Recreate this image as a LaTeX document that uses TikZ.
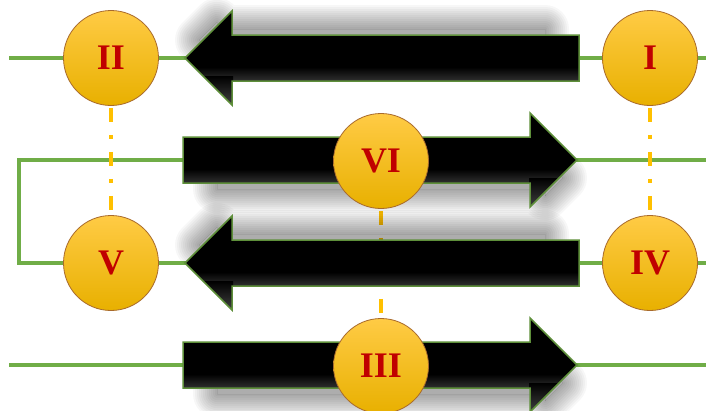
\documentclass[tikz,border=0pt]{standalone}
\usepackage{fontspec}
\setmainfont{Liberation Serif}

\definecolor{linegreen}{HTML}{70AD47}
\definecolor{edgegreen}{HTML}{5E8F3A}
\definecolor{dashorange}{HTML}{FFC000}
\definecolor{discrim}{HTML}{A86A2C}
\definecolor{disctop}{HTML}{FFCB45}
\definecolor{discmid}{HTML}{FFC000}
\definecolor{discbot}{HTML}{E8B000}
\definecolor{numred}{HTML}{C00000}

\pgfdeclarelayer{tracks}
\pgfdeclarelayer{shades}
\pgfdeclarelayer{arrows}
\pgfsetlayers{tracks,shades,arrows,main}

\tikzset{
  greenline/.style={linegreen, line width=4pt, line join=miter},
  dashdotline/.style={dashorange, line width=3.5pt,
    dash pattern=on 14pt off 13pt on 4pt off 13pt, dash phase=42pt},
  disc/.style={circle, minimum size=95pt, inner sep=0pt, draw=discrim,
    line width=0.8pt, top color=disctop, middle color=discmid,
    bottom color=discbot, text=numred,
    font=\bfseries\fontsize{36}{36}\selectfont},
  arrowedge/.style={draw=edgegreen, line width=1.5pt, line join=miter},
  shadowcore/.style={black, opacity=0.32},
  shadowring/.style={black, opacity=0.0316, line join=round}
}

% block arrow outline: tip at (#1,#2), #3 = 1 points right / -1 left,
% #4 = head length (= half head width), #5 = half shaft width,
% #6 = distance from tip to tail
\newcommand\arrowpath[6]{%
  (#1,#2) -- ++({-#4*#3},-#4) -- ++(0,{#4-#5}) -- ++({-(#6-#4)*#3},0)
  -- ++(0,{2*#5}) -- ++({(#6-#4)*#3},0) -- ++(0,{#4-#5}) -- cycle}

% soft shadow of an arrow whose tip would be at (#1,#2), direction #3,
% length #4: an inset core with fading rings round it
\newcommand\softshadow[4]{%
  \fill[shadowcore] \arrowpath{#1-17*#3}{#2}{#3}{18}{11}{#4-29};
  \begin{scope}[even odd rule]
    \clip (-50,-50) rectangle (760,460)
      \arrowpath{#1-17*#3}{#2}{#3}{18}{11}{#4-29};
    \foreach \w in {4,8,...,48} {
      \draw[shadowring, line width=\w pt]
        \arrowpath{#1-17*#3}{#2}{#3}{18}{11}{#4-29};
    }
  \end{scope}}

\begin{document}
\begin{tikzpicture}[x=1pt, y=-1pt]
  % canvas
  \begin{pgfonlayer}{tracks}
    \fill[white] (0,0) rectangle (706,410);
  \end{pgfonlayer}
  \useasboundingbox (0,0) rectangle (706,410);

  % line ends and corners
  \coordinate (L1) at (9,58);
  \coordinate (R1) at (706,58);
  \coordinate (R2) at (706,160);
  \coordinate (C2) at (19,160);
  \coordinate (C3) at (19,263);
  \coordinate (R3) at (706,263);
  \coordinate (L4) at (9,365);
  \coordinate (R4) at (706,365);

  % stations
  \path
    (650,58)  node[disc] (I)   {I}
    (111,58)  node[disc] (II)  {II}
    (381,366) node[disc] (III) {III}
    (650,263) node[disc] (IV)  {IV}
    (111,263) node[disc] (V)   {V}
    (381,161) node[disc] (VI)  {VI};

  \begin{pgfonlayer}{tracks}
    % green tracks
    \draw[greenline] (L1) -- (R1);
    \draw[greenline] (R2) -- (C2) -- (C3) -- (R3);
    \draw[greenline] (L4) -- (R4);
    % dash-dot links between stations
    \draw[dashdotline] (II.south) -- (V.north);
    \draw[dashdotline] (I.south) -- (IV.north);
    \draw[dashdotline] (VI.south) -- (III.north);
  \end{pgfonlayer}

  % shadows: above for the left arrows, below for the right ones
  \begin{pgfonlayer}{shades}
    \softshadow{182}{40}{-1}{375}
    \softshadow{182}{245}{-1}{375}
    \softshadow{580}{178}{1}{375}
    \softshadow{580}{383}{1}{375}
  \end{pgfonlayer}

  % block arrows: black body, soft sheen along the lower edges
  \begin{pgfonlayer}{arrows}
  \foreach \tx/\ty/\d in {185/58/-1, 577/160/1, 185/263/-1, 577/365/1} {
    \fill[black] \arrowpath{\tx}{\ty}{\d}{47}{23}{394};
    \begin{scope}
      \clip \arrowpath{\tx}{\ty}{\d}{47}{23}{394};
      \shade[top color=black, bottom color=black!80!white]
        (\tx-394*\d,\ty+9) rectangle (\tx,\ty+24);
      \shade[top color=black, bottom color=black!74!white]
        (\tx-48*\d,\ty+18) rectangle (\tx,\ty+48);
    \end{scope}
    \draw[arrowedge] \arrowpath{\tx}{\ty}{\d}{47}{23}{394};
  }
  \end{pgfonlayer}
\end{tikzpicture}
\end{document}
